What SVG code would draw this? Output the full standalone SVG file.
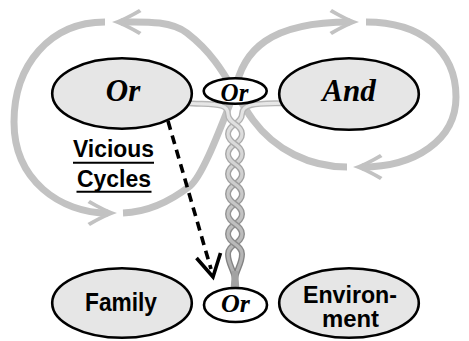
<svg xmlns="http://www.w3.org/2000/svg" width="469" height="341" viewBox="0 0 469 341">
  <defs>
    <linearGradient id="tubeFill" gradientUnits="userSpaceOnUse" x1="0" y1="100" x2="0" y2="280">
      <stop offset="0" stop-color="#e8e8e8"/>
      <stop offset="1" stop-color="#adadad"/>
    </linearGradient>
    <linearGradient id="tubeEdge" gradientUnits="userSpaceOnUse" x1="0" y1="100" x2="0" y2="280">
      <stop offset="0" stop-color="#b8b8b8"/>
      <stop offset="1" stop-color="#7e7e7e"/>
    </linearGradient>
    <!-- swept arrowhead, tip at origin, pointing to -x -->
    <path id="ah" d="M0,0 Q12,-4 27,-13 L29.5,-10 Q17,-3 10,0 Q17,3 29.5,10 L27,13 Q12,4 0,0 Z"/>
    <!-- braid strand pieces, one crossing per piece -->
    <path id="a0" d="M185,103 C212,105 228,102 228,114"/>
    <path id="b0" d="M287,103 C262,104 242,102 242,114"/>
    <path id="a1" d="M228,114 C228,124 242,124 242,134"/>
    <path id="b1" d="M242,114 C242,124 228,124 228,134"/>
    <path id="a2" d="M242,134 C242,144 228,144 228,154"/>
    <path id="b2" d="M228,134 C228,144 242,144 242,154"/>
    <path id="a3" d="M228,154 C228,164 242,164 242,174"/>
    <path id="b3" d="M242,154 C242,164 228,164 228,174"/>
    <path id="a4" d="M242,174 C242,184 228,184 228,194"/>
    <path id="b4" d="M228,174 C228,184 242,184 242,194"/>
    <path id="a5" d="M228,194 C228,204 242,204 242,214"/>
    <path id="b5" d="M242,194 C242,204 228,204 228,214"/>
    <path id="a6" d="M242,214 C242,224 228,224 228,234"/>
    <path id="b6" d="M228,214 C228,224 242,224 242,234"/>
    <path id="a7" d="M228,234 C228,244 242,244 242,254"/>
    <path id="b7" d="M242,234 C242,244 228,244 228,254"/>
    <path id="a8" d="M242,254 C242,264 236,270 235,279"/>
    <path id="b8" d="M228,254 C228,264 234,270 235,279"/>
  </defs>
  <style>
    .loop{fill:none;stroke:#c2c2c2;stroke-width:7}
    .head{fill:#c2c2c2}
    .edge{fill:none;stroke:url(#tubeEdge);stroke-width:6}
    .core{fill:none;stroke:url(#tubeFill);stroke-width:3.2}
    .node{fill:#e6e6e6;stroke:#000;stroke-width:2.6}
    .gate{fill:#fff;stroke:#000;stroke-width:2.6}
    .lbl{font-family:"Liberation Serif","Times New Roman",serif;font-weight:bold;font-style:italic;text-anchor:middle}
    .cap{font-family:"Liberation Sans",Arial,sans-serif;font-weight:bold;text-anchor:middle}
    .dash{fill:none;stroke:#000;stroke-width:3.6;stroke-dasharray:9 6}
    .vee{fill:none;stroke:#000;stroke-width:3.6}
  </style>

  <g id="connectors">
    <!-- figure-eight cycle -->
    <g id="cycle">
      <path class="loop" d="M347,167 C310,167 275,150 253,120 C231,90 222,60 187,33 C170,20 142,22 121,22"/>
      <path class="loop" d="M105,22 C50,22 14,65 14,122 C14,180 60,213 108,213"/>
      <path class="loop" d="M123,213 C150,212 172,200 190,186 C205,174 227,109 235,92 C242,50 270,22 350,22"/>
      <path class="loop" d="M366,22 C420,22 456,50 456,97 C456,140 415,167 362,167"/>
      <use href="#ah" class="head" transform="translate(112,22)"/>
      <use href="#ah" class="head" transform="translate(359,22) rotate(180)"/>
      <use href="#ah" class="head" transform="translate(117,213) rotate(180)"/>
      <use href="#ah" class="head" transform="translate(353,167)"/>
    </g>
    <!-- twisted pair into the lower gate -->
    <g id="braid">
      <use href="#a0" class="edge"/><use href="#a0" class="core"/>
      <use href="#b0" class="edge"/><use href="#b0" class="core"/>
      <use href="#b1" class="edge"/><use href="#b1" class="core"/>
      <use href="#a1" class="edge"/><use href="#a1" class="core"/>
      <use href="#a2" class="edge"/><use href="#a2" class="core"/>
      <use href="#b2" class="edge"/><use href="#b2" class="core"/>
      <use href="#b3" class="edge"/><use href="#b3" class="core"/>
      <use href="#a3" class="edge"/><use href="#a3" class="core"/>
      <use href="#a4" class="edge"/><use href="#a4" class="core"/>
      <use href="#b4" class="edge"/><use href="#b4" class="core"/>
      <use href="#b5" class="edge"/><use href="#b5" class="core"/>
      <use href="#a5" class="edge"/><use href="#a5" class="core"/>
      <use href="#a6" class="edge"/><use href="#a6" class="core"/>
      <use href="#b6" class="edge"/><use href="#b6" class="core"/>
      <use href="#b7" class="edge"/><use href="#b7" class="core"/>
      <use href="#a7" class="edge"/><use href="#a7" class="core"/>
      <use href="#a8" class="edge"/><use href="#a8" class="core"/>
      <use href="#b8" class="edge"/><use href="#b8" class="core"/>
      <path d="M232,271 L238,271 L239.5,290 L230.5,290 Z" fill="#a2a2a2"/>
    </g>
    <!-- dashed influence arrow -->
    <g id="influence">
      <line class="dash" x1="168" y1="121" x2="211" y2="269"/>
      <path class="vee" d="M196.5,258 L213,277 L220.5,253"/>
    </g>
  </g>

  <g id="or-main">
    <ellipse class="node" cx="122" cy="93.5" rx="69.8" ry="35.3"/>
    <text class="lbl" x="123" y="100.5" font-size="31">Or</text>
  </g>
  <g id="and-main">
    <ellipse class="node" cx="349" cy="94" rx="69.8" ry="35.8"/>
    <text class="lbl" x="349" y="100.5" font-size="31">And</text>
  </g>
  <g id="or-top">
    <ellipse class="gate" cx="235.2" cy="91" rx="31.5" ry="12.8"/>
    <text class="lbl" x="234.5" y="100.5" font-size="25">Or</text>
  </g>
  <g id="vicious-cycles">
    <text class="cap" x="113.5" y="157" font-size="23" textLength="81" lengthAdjust="spacingAndGlyphs">Vicious</text>
    <text class="cap" x="114" y="187" font-size="23" textLength="74" lengthAdjust="spacingAndGlyphs">Cycles</text>
    <line x1="73" y1="162.8" x2="154" y2="162.8" stroke="#000" stroke-width="2"/>
    <line x1="76.5" y1="191.7" x2="151.5" y2="191.7" stroke="#000" stroke-width="2"/>
  </g>
  <g id="family">
    <ellipse class="node" cx="122" cy="303" rx="69.8" ry="34.8"/>
    <text class="cap" x="121" y="310.5" font-size="26" textLength="72" lengthAdjust="spacingAndGlyphs">Family</text>
  </g>
  <g id="or-bottom">
    <ellipse class="gate" cx="235.5" cy="305" rx="31.5" ry="17"/>
    <text class="lbl" x="235.5" y="312" font-size="26">Or</text>
  </g>
  <g id="environment">
    <ellipse class="node" cx="349" cy="303" rx="69.8" ry="34.8"/>
    <text class="cap" x="350" y="302.5" font-size="24" textLength="94" lengthAdjust="spacingAndGlyphs">Environ-</text>
    <text class="cap" x="350.5" y="327" font-size="24" textLength="57" lengthAdjust="spacingAndGlyphs">ment</text>
  </g>
</svg>
